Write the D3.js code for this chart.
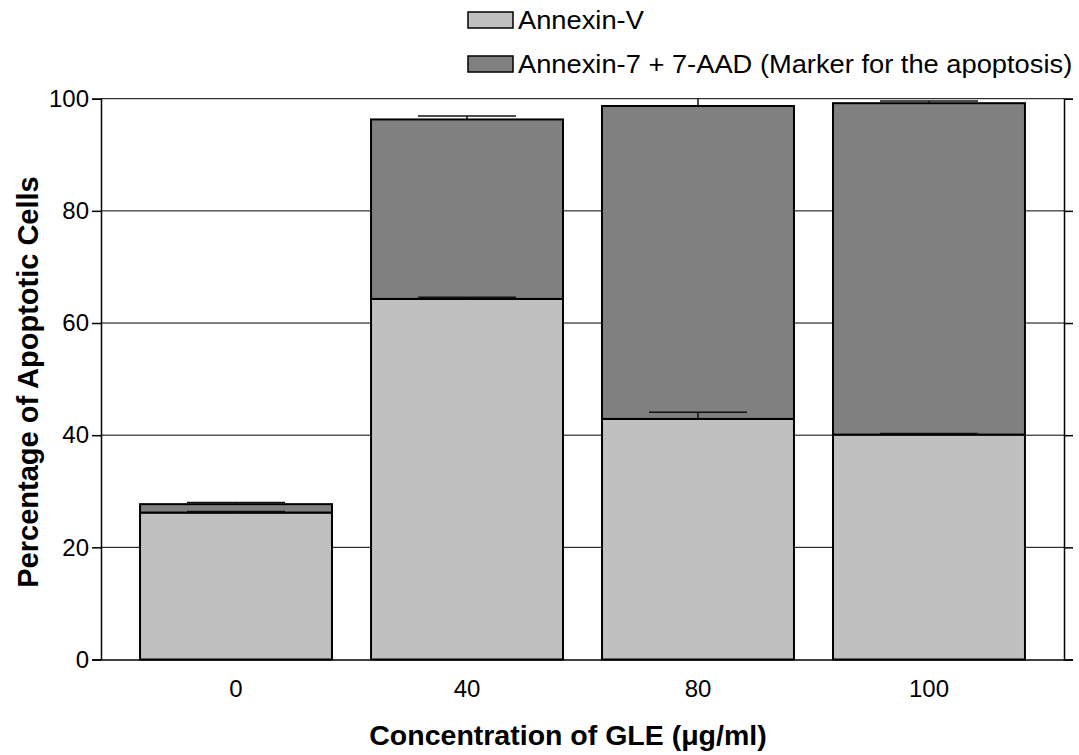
<!DOCTYPE html>
<html>
<head>
<meta charset="utf-8">
<script src="https://cdn.jsdelivr.net/npm/d3@7"></script>
<style>
  body { margin: 0; background: #fff; }
  svg { font-family: "Liberation Sans", Arial, sans-serif; }
</style>
</head>
<body>
<svg id="chart" width="1079" height="755"></svg>
<script>
// data
var categories = ["0", "40", "80", "100"];
var annexinV = [26.2, 64.3, 42.9, 40.1];
var annexinVErr = [0.2, 0.3, 1.2, 0.2];
var annexin7 = [1.5, 32.0, 55.8, 59.1];   // stacked on top of Annexin-V
var totalErr = [0.3, 0.6, 1.6, 0.4];
var yTicks = [0, 20, 40, 60, 80, 100];
var seriesNames = ["Annexin-V", "Annexin-7 + 7-AAD (Marker for the apoptosis)"];

var margin = {top: 98.7, right: 15, bottom: 95.5, left: 101};
var W = 1079, H = 755;
var width = W - margin.left - margin.right;
var height = H - margin.top - margin.bottom;

var svg = d3.select("#chart");
var chart = svg.append("g")
  .attr("transform", "translate(" + margin.left + "," + margin.top + ")");

var data = categories.map(function(c, i) {
  return {cat: c, a: annexinV[i], b: annexin7[i], aErr: annexinVErr[i], tErr: totalErr[i]};
});
var stacked = d3.stack().keys(["a", "b"])(data);

var x = d3.scaleBand().domain(categories).range([0, width])
  .paddingInner(0.169).paddingOuter(0.169);
var y = d3.scaleLinear().domain([0, 100]).range([height, 0]);
var z = d3.scaleOrdinal().domain(["a", "b"]).range(["#c0c0c0", "#808080"]);

svg.append("defs").append("clipPath").attr("id", "plotclip")
  .append("rect").attr("x", 0).attr("y", 0).attr("width", width).attr("height", height);

// gridlines
chart.append("g").selectAll("line")
  .data(yTicks.filter(function(d) { return d > 0; }))
  .enter().append("line")
  .attr("x1", 0).attr("x2", width)
  .attr("y1", function(d) { return y(d); }).attr("y2", function(d) { return y(d); })
  .attr("stroke", "#000").attr("stroke-width", 1);

// bars
chart.append("g").selectAll("g")
  .data(stacked)
  .enter().append("g")
  .attr("fill", function(d) { return z(d.key); })
  .selectAll("rect")
  .data(function(d) { return d; })
  .enter().append("rect")
  .attr("x", function(d) { return x(d.data.cat); })
  .attr("y", function(d) { return y(d[1]); })
  .attr("width", x.bandwidth())
  .attr("height", function(d) { return y(d[0]) - y(d[1]); })
  .attr("stroke", "#000").attr("stroke-width", 2);

// error bars (plus side only)
var errs = [];
stacked.forEach(function(s) {
  s.forEach(function(d) {
    var e = s.key === "a" ? d.data.aErr : d.data.tErr;
    errs.push({cat: d.data.cat, v: d[1], e: e});
  });
});
var eg = chart.append("g").attr("clip-path", "url(#plotclip)")
  .selectAll("g").data(errs).enter().append("g")
  .attr("stroke", "#111").attr("stroke-width", 1.5);
eg.append("line")
  .attr("x1", function(d) { return x(d.cat) + x.bandwidth() / 2; })
  .attr("x2", function(d) { return x(d.cat) + x.bandwidth() / 2; })
  .attr("y1", function(d) { return y(d.v); })
  .attr("y2", function(d) { return y(d.v + d.e); });
eg.append("line")
  .attr("x1", function(d) { return x(d.cat) + x.bandwidth() / 2 - 49; })
  .attr("x2", function(d) { return x(d.cat) + x.bandwidth() / 2 + 49; })
  .attr("y1", function(d) { return y(d.v + d.e); })
  .attr("y2", function(d) { return y(d.v + d.e); });

// axes
var yAxis = chart.append("g")
  .call(d3.axisLeft(y).tickValues(yTicks).tickSize(9).tickPadding(3));
var yAxisR = chart.append("g").attr("transform", "translate(" + width + ",0)")
  .call(d3.axisRight(y).tickValues(yTicks).tickSize(9).tickFormat(""));
var xAxis = chart.append("g").attr("transform", "translate(0," + height + ")")
  .call(d3.axisBottom(x).tickSize(0).tickPadding(20));

[yAxis, yAxisR, xAxis].forEach(function(a) {
  a.select(".domain").attr("stroke", "#000").attr("stroke-width", 1.5);
  a.selectAll(".tick line").attr("stroke", "#000").attr("stroke-width", 1.5);
  a.selectAll("text").attr("font-size", 24).attr("fill", "#000")
    .attr("font-family", "Liberation Sans, Arial, sans-serif");
});

// axis titles
svg.append("text")
  .attr("transform", "translate(38,382) rotate(-90)")
  .attr("text-anchor", "middle")
  .attr("font-size", 29).attr("font-weight", "bold")
  .text("Percentage of Apoptotic Cells");
svg.append("text")
  .attr("x", 568).attr("y", 745)
  .attr("text-anchor", "middle")
  .attr("font-size", 28.5).attr("font-weight", "bold")
  .text("Concentration of GLE (\u03bcg/ml)");

// legend
var legend = svg.append("g").attr("transform", "translate(468,12)")
  .selectAll("g").data(["a", "b"]).enter().append("g")
  .attr("transform", function(d, i) { return "translate(0," + (i * 44) + ")"; });
legend.append("rect")
  .attr("width", 45).attr("height", 16)
  .attr("fill", function(d) { return z(d); })
  .attr("stroke", "#000").attr("stroke-width", 1.5);
legend.append("text")
  .attr("transform", "translate(50,8) scale(1.05,1)")
  .attr("dy", "0.36em")
  .attr("font-size", 26)
  .text(function(d, i) { return seriesNames[i]; });
</script>
</body>
</html>
